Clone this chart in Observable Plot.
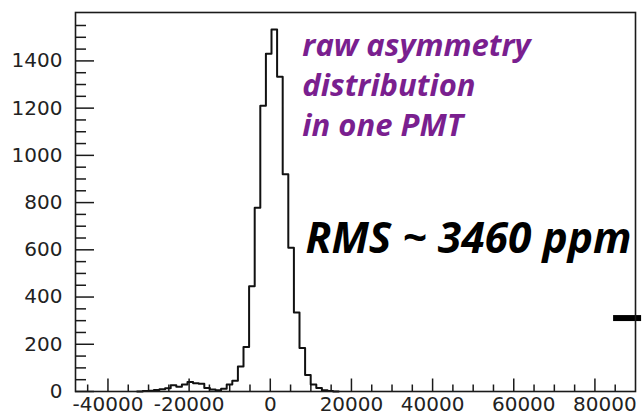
<!DOCTYPE html>
<html><head><meta charset="utf-8">
<script src="https://cdn.jsdelivr.net/npm/d3@7"></script>
<script src="https://cdn.jsdelivr.net/npm/@observablehq/plot@0.6"></script>
<style>body{margin:0;background:#fff} #chart{width:642px;height:417px}</style>
</head><body><div id="chart"></div>
<script>
// Histogram binning (100 bins from -48000 to 90000)
const binLow = -48000, binWidth = 1380, firstBin = 11;
// bin contents, starting at bin index firstBin
const counts = [0, 2, 3, 6, 10, 14, 26, 20, 30, 40, 35, 33, 15, 8, 5, 12, 30, 45,
  106, 188, 446, 778, 1210, 1430, 1533, 1333, 920, 609, 335, 184, 70, 30, 15, 5, 2, 0];
// marker at the right edge
const markerLevel = 311, markerFrom = 84600, markerTo = 91500;

const xMajorTicks = [-40000, -20000, 0, 20000, 40000, 60000, 80000];
const xLabelsA = [-40000, -20000, 0, 20000, 40000];
const xLabelsB = [60000, 80000];
const xMinorTicks = d3.range(-45000, 90000, 5000).filter(v => v % 20000 !== 0);
const yMajorTicks = [0, 200, 400, 600, 800, 1000, 1200, 1400];
const yMinorTicks = d3.range(50, 1601, 50).filter(v => v % 200 !== 0);

const annotation = "raw asymmetry\ndistribution\nin one PMT";
const rmsText = "RMS ~ 3460 ppm";

const W = 642, H = 417, mL = 75, mR = 7, mT = 12, mB = 26;
const pw = W - mL - mR, ph = H - mT - mB;

const pts = counts.map((c, i) => ({x: binLow + (firstBin + i) * binWidth, y: c}));
pts.push({x: binLow + (firstBin + counts.length) * binWidth, y: counts[counts.length - 1]});

const ink = "#1a1a1a";
const chart = Plot.plot({
  width: W, height: H,
  marginLeft: mL, marginRight: mR, marginTop: mT, marginBottom: mB,
  x: {domain: [-48000, 90000]},
  y: {domain: [0, 1605]},
  style: {fontFamily: "DejaVu Sans", fontSize: "20px", color: "#222", background: "#fff"},
  marks: [
    Plot.tickY(yMinorTicks, {y: d => d, insetRight: pw - 11, stroke: ink, strokeWidth: 1.5}),
    Plot.tickY(yMajorTicks, {y: d => d, insetRight: pw - 19, stroke: ink, strokeWidth: 1.5}),
    Plot.tickX(xMinorTicks, {x: d => d, insetTop: ph - 6.5, stroke: ink, strokeWidth: 1.5}),
    Plot.tickX(xMajorTicks, {x: d => d, insetTop: ph - 12.5, stroke: ink, strokeWidth: 1.5}),
    Plot.axisY(yMajorTicks, {tickSize: 0, tickPadding: 13, label: null, fontSize: 20, tickFormat: d => String(d)}),
    Plot.axisX(xLabelsA, {tickSize: 0, tickPadding: 5, label: null, fontSize: 20, tickFormat: d => String(d)}),
    Plot.axisX(xLabelsB, {tickSize: 0, tickPadding: 5, label: null, fontSize: 20, dx: 10, tickFormat: d => String(d)}),
    Plot.line(pts, {x: "x", y: "y", curve: "step-after", stroke: "#111", strokeWidth: 2}),
    Plot.ruleY([markerLevel], {x1: markerFrom, x2: markerTo, stroke: "#000", strokeWidth: 6, clip: false}),
    Plot.frame({stroke: ink, strokeWidth: 1.6}),
    Plot.text([annotation], {x: 7900, y: 1541, text: d => d, textAnchor: "start", lineAnchor: "top",
      lineHeight: 1.29, fontSize: 31, fontWeight: "bold", fontStyle: "italic", fill: "#7a1f8f", fontFamily: "Open Sans"}),
    Plot.text([rmsText], {x: 8700, y: 716, text: d => d, textAnchor: "start", lineAnchor: "top",
      fontSize: 42.5, fontWeight: "bold", fontStyle: "italic", fill: "#000", fontFamily: "Open Sans"})
  ]
});
document.getElementById("chart").appendChild(chart);
</script></body></html>
